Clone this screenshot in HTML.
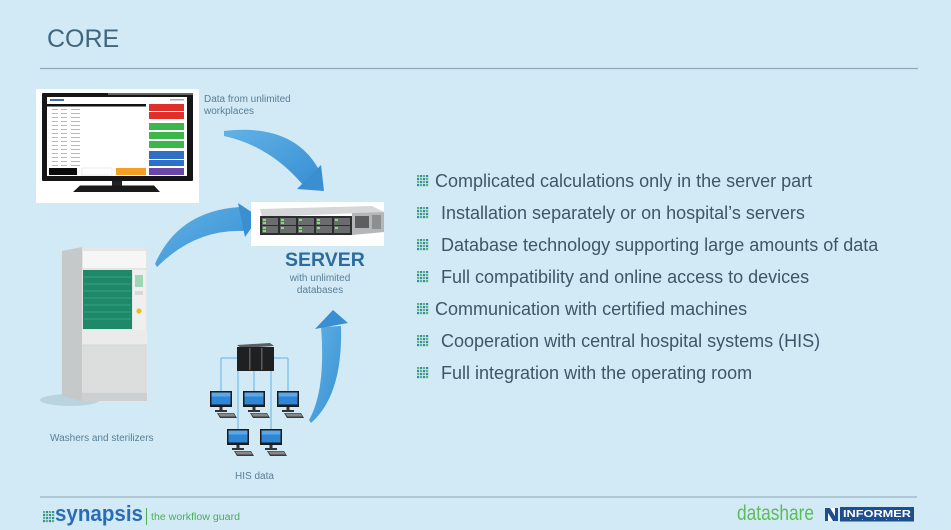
<!DOCTYPE html>
<html><head><meta charset="utf-8">
<style>
html,body{margin:0;padding:0;}
body{width:951px;height:530px;overflow:hidden;background:#d2eaf6;}
svg{display:block}
</style></head><body>
<svg width="951" height="530" viewBox="0 0 951 530" xmlns="http://www.w3.org/2000/svg" font-family="'Liberation Sans', Arial, sans-serif">
<defs>
  <linearGradient id="ag" x1="0" y1="0" x2="1" y2="1">
    <stop offset="0" stop-color="#62b2e4"/>
    <stop offset="1" stop-color="#3890d4"/>
  </linearGradient>
  <g id="bul">
    <rect x="0" y="0" width="2.2" height="2.2" fill="#5fb860"/><rect x="3" y="0" width="2.2" height="2.2" fill="#3d82c4"/><rect x="6" y="0" width="2.2" height="2.2" fill="#5fb860"/><rect x="9" y="0" width="2.2" height="2.2" fill="#3d82c4"/>
    <rect x="0" y="3" width="2.2" height="2.2" fill="#3d82c4"/><rect x="3" y="3" width="2.2" height="2.2" fill="#5fb860"/><rect x="6" y="3" width="2.2" height="2.2" fill="#3d82c4"/><rect x="9" y="3" width="2.2" height="2.2" fill="#5fb860"/>
    <rect x="0" y="6" width="2.2" height="2.2" fill="#5fb860"/><rect x="3" y="6" width="2.2" height="2.2" fill="#3d82c4"/><rect x="6" y="6" width="2.2" height="2.2" fill="#5fb860"/><rect x="9" y="6" width="2.2" height="2.2" fill="#3d82c4"/>
    <rect x="0" y="9" width="2.2" height="2.2" fill="#3d82c4"/><rect x="3" y="9" width="2.2" height="2.2" fill="#5fb860"/><rect x="6" y="9" width="2.2" height="2.2" fill="#3d82c4"/><rect x="9" y="9" width="2.2" height="2.2" fill="#5fb860"/>
  </g>
  <g id="pc">
    <rect x="-11" y="0" width="22" height="16" fill="#1b1b1b"/>
    <rect x="-9.5" y="1.5" width="19" height="12" fill="#2f86d6"/>
    <rect x="-9.5" y="1.5" width="19" height="4" fill="#5aa8ea"/>
    <rect x="-1.5" y="16" width="3" height="3" fill="#333"/>
    <rect x="-6" y="19" width="12" height="2" fill="#333"/>
    <path d="M-4 22 L13 22 L16 27 L-1 27 Z" fill="#3a3a3a"/>
    <path d="M-3 22.5 L12.5 22.5 L14.5 25.5 L-0.5 25.5 Z" fill="#888"/>
  </g>
</defs>

<rect width="951" height="530" fill="#d2eaf6"/>

<!-- Title -->
<text x="47" y="47" font-size="25" fill="#41667b">CORE</text>
<line x1="40" y1="68.5" x2="918" y2="68.5" stroke="#8fa9b9" stroke-width="1.3"/>

<!-- Monitor image -->
<rect x="36" y="89" width="163" height="114" fill="#ffffff"/>
<rect x="42" y="93" width="151" height="88" rx="1" fill="#161616"/>
<rect x="108" y="93" width="85" height="2" fill="#666"/>
<rect x="47" y="97" width="140" height="79" fill="#ffffff"/>
<rect x="50" y="99" width="14" height="2" fill="#3a6ea8"/>
<rect x="170" y="99" width="14" height="1.5" fill="#aaa"/>
<rect x="47" y="104" width="99" height="2.5" fill="#111"/>
<g fill="#b8b8b8">
  <rect x="52" y="109" width="6" height="1"/><rect x="61" y="109" width="6" height="1"/><rect x="71" y="109" width="9" height="1"/>
  <rect x="52" y="113" width="6" height="1"/><rect x="61" y="113" width="6" height="1"/><rect x="71" y="113" width="9" height="1"/>
  <rect x="52" y="117" width="6" height="1"/><rect x="61" y="117" width="6" height="1"/><rect x="71" y="117" width="9" height="1"/>
  <rect x="52" y="121" width="6" height="1"/><rect x="61" y="121" width="6" height="1"/><rect x="71" y="121" width="9" height="1"/>
  <rect x="52" y="125" width="6" height="1"/><rect x="61" y="125" width="6" height="1"/><rect x="71" y="125" width="9" height="1"/>
  <rect x="52" y="129" width="6" height="1"/><rect x="61" y="129" width="6" height="1"/><rect x="71" y="129" width="9" height="1"/>
  <rect x="52" y="133" width="6" height="1"/><rect x="61" y="133" width="6" height="1"/><rect x="71" y="133" width="9" height="1"/>
  <rect x="52" y="137" width="6" height="1"/><rect x="61" y="137" width="6" height="1"/><rect x="71" y="137" width="9" height="1"/>
  <rect x="52" y="141" width="6" height="1"/><rect x="61" y="141" width="6" height="1"/><rect x="71" y="141" width="9" height="1"/>
  <rect x="52" y="145" width="6" height="1"/><rect x="61" y="145" width="6" height="1"/><rect x="71" y="145" width="9" height="1"/>
  <rect x="52" y="149" width="6" height="1"/><rect x="61" y="149" width="6" height="1"/><rect x="71" y="149" width="9" height="1"/>
  <rect x="52" y="153" width="6" height="1"/><rect x="61" y="153" width="6" height="1"/><rect x="71" y="153" width="9" height="1"/>
  <rect x="52" y="157" width="6" height="1"/><rect x="61" y="157" width="6" height="1"/><rect x="71" y="157" width="9" height="1"/>
  <rect x="52" y="161" width="6" height="1"/><rect x="61" y="161" width="6" height="1"/><rect x="71" y="161" width="9" height="1"/>
  <rect x="52" y="165" width="6" height="1"/><rect x="61" y="165" width="6" height="1"/><rect x="71" y="165" width="9" height="1"/>
</g>
<rect x="149" y="104" width="35" height="7" fill="#e0302c"/>
<rect x="149" y="112" width="35" height="7" fill="#e0302c"/>
<rect x="149" y="123" width="35" height="7" fill="#3cb84a"/>
<rect x="149" y="132" width="35" height="7" fill="#3cb84a"/>
<rect x="149" y="141" width="35" height="7" fill="#3cb84a"/>
<rect x="149" y="151" width="35" height="8" fill="#2f6fc4"/>
<rect x="149" y="160" width="35" height="6" fill="#2f6fc4"/>
<rect x="49" y="168" width="28" height="7" fill="#0a0a0a"/>
<rect x="82" y="168" width="30" height="7" fill="#ffffff" stroke="#ddd" stroke-width="0.5"/>
<rect x="116" y="168" width="30" height="7" fill="#f5a024"/>
<rect x="149" y="168" width="35" height="7" fill="#6a48a8"/>
<rect x="112" y="181" width="10" height="5" fill="#222"/>
<path d="M80 185.5 L154 185.5 L160 192 L73 192 Z" fill="#1a1a1a"/>

<!-- Data from text -->
<text font-size="10" fill="#5a7e95"><tspan x="204" y="102">Data from unlimited</tspan><tspan x="204" y="114">workplaces</tspan></text>

<!-- Arrows -->
<path d="M224,131 Q292,123 318,168 L303,185 Q270,146 224,136 Z" fill="url(#ag)"/>
<polygon points="321,165 297,189 324,191" fill="#3a8fd2"/>

<path d="M155,264 Q178,211 240,207 L244,231 Q195,229 157,267 Z" fill="url(#ag)"/>
<polygon points="238,203 245,237 259,217" fill="#3a8fd2"/>

<path d="M341,326 Q343,395 311,423 L309,420 Q326,390 321,327 Z" fill="url(#ag)"/>
<polygon points="315,329 348,323 333,310" fill="#3a8fd2"/>

<!-- Server image -->
<rect x="251" y="202" width="133" height="44" fill="#ffffff"/>
<polygon points="260,209 372,206 384,212 262,217" fill="#d6d7d9"/>
<rect x="260" y="216" width="92" height="19" fill="#2b2d2e"/>
<polygon points="352,213 384,212 384,232 352,235" fill="#b4b6b8"/>
<rect x="355" y="216" width="14" height="12" fill="#5c5e60"/>
<rect x="372" y="215" width="9" height="14" fill="#8c8e90"/>
<g fill="#6a6c6e">
  <rect x="262" y="218" width="16" height="7"/><rect x="262" y="226" width="16" height="7"/>
  <rect x="280" y="218" width="16" height="7"/><rect x="280" y="226" width="16" height="7"/>
  <rect x="298" y="218" width="16" height="7"/><rect x="298" y="226" width="16" height="7"/>
  <rect x="316" y="218" width="16" height="7"/><rect x="316" y="226" width="16" height="7"/>
  <rect x="334" y="218" width="16" height="7"/><rect x="334" y="226" width="16" height="7"/>
</g>
<g fill="#7ee070">
  <rect x="263" y="219" width="3" height="2"/><rect x="263" y="227" width="3" height="2"/><rect x="263" y="222" width="3" height="2"/><rect x="263" y="230" width="3" height="2"/>
  <rect x="281" y="219" width="3" height="2"/><rect x="281" y="227" width="3" height="2"/><rect x="281" y="222" width="3" height="2"/>
  <rect x="299" y="219" width="3" height="2"/><rect x="299" y="227" width="3" height="2"/><rect x="299" y="230" width="3" height="2"/>
  <rect x="317" y="219" width="3" height="2"/><rect x="317" y="227" width="3" height="2"/><rect x="317" y="222" width="3" height="2"/>
  <rect x="335" y="219" width="3" height="2"/><rect x="335" y="227" width="3" height="2"/>
</g>

<text x="285" y="266" font-size="19.5" font-weight="bold" fill="#2e6b9e">SERVER</text>
<text font-size="10" fill="#5a7e95" text-anchor="middle"><tspan x="320" y="281">with unlimited</tspan><tspan x="320" y="293">databases</tspan></text>

<!-- Washer -->
<ellipse cx="70" cy="400" rx="30" ry="6" fill="#b9d3df"/>
<polygon points="62,251 82,247 82,401 62,396" fill="#c6c9ca"/>
<rect x="82" y="247" width="65" height="154" fill="#e4e6e6"/>
<rect x="83" y="251" width="63" height="17" fill="#f6f6f6"/>
<rect x="83" y="270" width="49" height="59" fill="#1f8868"/>
<g stroke="#3fb088" stroke-width="0.8">
  <line x1="84" y1="277" x2="131" y2="277"/><line x1="84" y1="284" x2="131" y2="284"/>
  <line x1="84" y1="291" x2="131" y2="291"/><line x1="84" y1="298" x2="131" y2="298"/>
  <line x1="84" y1="305" x2="131" y2="305"/><line x1="84" y1="312" x2="131" y2="312"/>
  <line x1="84" y1="319" x2="131" y2="319"/>
</g>
<rect x="133" y="270" width="13" height="60" fill="#efefef"/>
<rect x="135" y="275" width="8" height="12" fill="#9fd6b4"/>
<rect x="135" y="291" width="8" height="4" fill="#d8d8d8"/>
<circle cx="139" cy="311" r="2.6" fill="#e6c21e"/>
<rect x="82" y="330" width="65" height="14" fill="#ebebeb"/>
<rect x="83" y="345" width="63" height="48" fill="#dcdede" stroke="#cfd1d1" stroke-width="0.6"/>
<rect x="82" y="393" width="65" height="8" fill="#cdd0d0"/>
<text x="50" y="441" font-size="10" fill="#5a7e95">Washers and sterilizers</text>

<!-- HIS network -->
<g stroke="#86c6e8" stroke-width="1.5" fill="none">
  <line x1="221" y1="358" x2="288" y2="358"/>
  <line x1="221" y1="358" x2="221" y2="392"/>
  <line x1="288" y1="358" x2="288" y2="392"/>
  <line x1="254" y1="370" x2="254" y2="392"/>
  <line x1="238" y1="370" x2="238" y2="430"/>
  <line x1="271" y1="370" x2="271" y2="430"/>
</g>
<polygon points="237,345 270,343 274,346 241,348" fill="#5a5c5e"/>
<rect x="237" y="347" width="37" height="24" fill="#1f2022"/>
<rect x="249" y="348" width="1.5" height="22" fill="#5a5c5e"/>
<rect x="261" y="348" width="1.5" height="22" fill="#5a5c5e"/>
<use href="#pc" x="221" y="391"/>
<use href="#pc" x="254" y="391"/>
<use href="#pc" x="288" y="391"/>
<use href="#pc" x="238" y="429"/>
<use href="#pc" x="271" y="429"/>
<text x="235" y="479" font-size="10" fill="#5a7e95">HIS data</text>

<!-- Bullets -->
<g font-size="18" fill="#3e5768">
  <use href="#bul" x="417" y="175"/><text x="435" y="187">Complicated calculations only in the server part</text>
  <use href="#bul" x="417" y="207"/><text x="441" y="219">Installation separately or on hospital’s servers</text>
  <use href="#bul" x="417" y="239"/><text x="441" y="251">Database technology supporting large amounts of data</text>
  <use href="#bul" x="417" y="271"/><text x="441" y="283">Full compatibility and online access to devices</text>
  <use href="#bul" x="417" y="303"/><text x="435" y="315">Communication with certified machines</text>
  <use href="#bul" x="417" y="335"/><text x="441" y="347">Cooperation with central hospital systems (HIS)</text>
  <use href="#bul" x="417" y="367"/><text x="441" y="379">Full integration with the operating room</text>
</g>

<!-- Footer -->
<line x1="40" y1="497" x2="917" y2="497" stroke="#9cb2bf" stroke-width="1.3"/>
<use href="#bul" x="43" y="511"/>
<text x="55" y="521" font-size="22" font-weight="bold" fill="#2a6db5" textLength="88" lengthAdjust="spacingAndGlyphs">synapsis</text>
<line x1="146.5" y1="508" x2="146.5" y2="525" stroke="#4caf50" stroke-width="1"/>
<text x="151" y="520" font-size="10" fill="#4caf50" textLength="89" lengthAdjust="spacingAndGlyphs">the workflow guard</text>

<text x="737" y="520" font-size="21" fill="#5cbc5a" textLength="77" lengthAdjust="spacingAndGlyphs">datashare</text>
<rect x="825" y="508" width="13" height="13" fill="#ffffff"/>
<polygon points="825,508 830,508 838,521 833,521" fill="#1f4e8f"/>
<rect x="825" y="508" width="3" height="13" fill="#1f4e8f"/>
<rect x="835" y="508" width="3" height="13" fill="#1f4e8f"/>
<rect x="840" y="507" width="74" height="14.5" fill="#1f4e8f"/>
<text x="843" y="517" font-size="10" font-weight="bold" fill="#ffffff" textLength="68" lengthAdjust="spacingAndGlyphs">INFORMER</text>
<g fill="#9fb8d8"><rect x="850" y="519" width="1" height="1"/><rect x="862" y="519" width="1" height="1"/><rect x="874" y="519" width="1" height="1"/><rect x="886" y="519" width="1" height="1"/><rect x="898" y="519" width="1" height="1"/></g>
</svg>
</body></html>
